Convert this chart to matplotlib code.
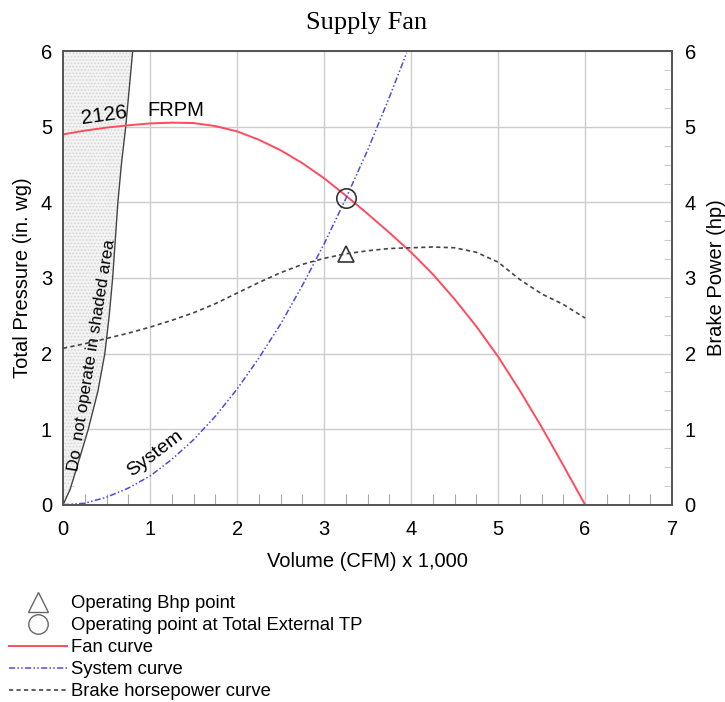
import matplotlib.pyplot as plt
from matplotlib.lines import Line2D
from matplotlib.ticker import MultipleLocator

# fan curve at 2126 RPM (total pressure, in. wg)
fan_cfm = [0, 0.25, 0.5, 0.75, 1.0, 1.25, 1.5, 1.75, 2.0, 2.25, 2.5, 2.75, 3.0,
           3.25, 3.5, 3.75, 4.0, 4.25, 4.5, 4.75, 5.0, 5.25, 5.5, 5.75, 6.0]
fan_tp = [4.90, 4.95, 4.99, 5.02, 5.045, 5.055, 5.05, 5.01, 4.94, 4.83, 4.69, 4.52, 4.32,
          4.09, 3.85, 3.60, 3.34, 3.05, 2.72, 2.36, 1.96, 1.51, 1.03, 0.52, 0.0]

# system curve
sys_cfm = [0, 0.25, 0.5, 0.75, 1.0, 1.25, 1.5, 1.75, 2.0, 2.25, 2.5, 2.75, 3.0,
           3.25, 3.5, 3.75, 3.95]
sys_tp = [0, 0.02, 0.10, 0.22, 0.38, 0.60, 0.86, 1.17, 1.53, 1.94, 2.39, 2.90, 3.45,
          4.05, 4.69, 5.39, 5.98]

# brake horsepower curve (hp)
bhp_cfm = [0, 0.25, 0.5, 0.75, 1.0, 1.25, 1.5, 1.75, 2.0, 2.25, 2.5, 2.75, 3.0,
           3.25, 3.5, 3.75, 4.0, 4.25, 4.5, 4.75, 5.0, 5.25, 5.5, 5.75, 6.0]
bhp_hp = [2.07, 2.13, 2.20, 2.27, 2.35, 2.44, 2.54, 2.66, 2.80, 2.94, 3.07, 3.18, 3.26,
          3.32, 3.36, 3.39, 3.40, 3.41, 3.40, 3.34, 3.21, 2.98, 2.79, 2.65, 2.47]

# stall boundary ("do not operate" region on the left)
stall_tp = [0, 0.2, 0.5, 1.0, 1.5, 2.0, 2.5, 3.0, 3.5, 4.0, 4.5, 5.0, 5.5, 6.0]
stall_cfm = [0, 0.08, 0.16, 0.29, 0.40, 0.48, 0.53, 0.57, 0.60, 0.63, 0.67, 0.72, 0.76, 0.80]

op_point = (3.25, 4.06)
bhp_point = (3.25, 3.32)

plt.rcParams['font.family'] = ['Liberation Sans', 'DejaVu Sans']
plt.rcParams['hatch.color'] = '#d4d4d4'
plt.rcParams['hatch.linewidth'] = 0.7

fig = plt.figure(figsize=(7.25, 7.02), dpi=100)
ax = fig.add_axes([0.087, 0.281, 0.840, 0.646])
ax2 = ax.twinx()

ax.fill_betweenx(stall_tp, 0, stall_cfm, facecolor='#f3f3f3', edgecolor='#d4d4d4',
                 hatch='.....', linewidth=0, zorder=1)
ax.plot(stall_cfm, stall_tp, color='#444444', lw=1.0, zorder=3)

ax.plot(fan_cfm, fan_tp, color='#ff4b5c', lw=1.4, zorder=4)
ax.plot(sys_cfm, sys_tp, color='#4b4bdc', lw=1.1,
        linestyle=(0, (4, 1.5, 1, 1.5, 1, 1.5)), zorder=4)
ax2.plot(bhp_cfm, bhp_hp, color='#444444', lw=1.2, linestyle=(0, (2.5, 2)), zorder=4)

ax.plot(*op_point, marker='o', ms=14, mfc='none', mec='#333333', mew=1.2, zorder=5)
ax.plot(*bhp_point, marker='^', ms=11, mfc='none', mec='#333333', mew=1.2, zorder=5)

ax.text(0.47, 5.15, '2126', fontsize=15, rotation=8, ha='center', va='center', zorder=6)
ax.text(1.30, 5.22, 'FRPM', fontsize=14.5, ha='center', va='center', zorder=6)
ax.text(0.33, 1.98, 'Do  not operate in shaded area', fontsize=12.2, rotation=81,
        ha='center', va='center', zorder=6)
ax.text(1.06, 0.68, 'System', fontsize=14, rotation=37, ha='center', va='center', zorder=6)

for a in (ax, ax2):
    a.set_xlim(0, 7)
    a.set_ylim(0, 6)
    a.yaxis.set_major_locator(MultipleLocator(1))
    a.yaxis.set_minor_locator(MultipleLocator(0.25))
    for s in a.spines.values():
        s.set_color('#555555')
        s.set_linewidth(1.3)

ax.xaxis.set_major_locator(MultipleLocator(1))
ax.xaxis.set_minor_locator(MultipleLocator(0.25))
ax.grid(True, which='major', color='#cccccc', lw=1.0, zorder=0)
ax.set_axisbelow(True)

ax.tick_params(which='major', length=0, labelsize=14.5, pad=8)
ax.tick_params(axis='x', which='major', pad=11)
ax.tick_params(which='minor', direction='in', length=8, color='#aaaaaa', width=0.8)
ax.tick_params(axis='y', which='minor', color='#d0d0d0')
ax2.tick_params(which='major', length=0, labelsize=14.5, pad=9)
ax2.tick_params(which='minor', direction='in', length=6, color='#cccccc', width=0.8)

ax.set_xlabel('Volume (CFM) x 1,000', fontsize=14.5, labelpad=9)
ax.set_ylabel('Total Pressure (in. wg)', fontsize=14.5, labelpad=6)
ax2.set_ylabel('Brake Power (hp)', fontsize=14.5, labelpad=8)

fig.text(0.506, 0.967, 'Supply Fan', fontsize=19, family='Liberation Serif',
         ha='center', va='center')

handles = [
    Line2D([], [], ls='none', marker='^', ms=14, mfc='none', mec='#666666', mew=1.0),
    Line2D([], [], ls='none', marker='o', ms=14, mfc='none', mec='#666666', mew=1.0),
    Line2D([], [], color='#ff4b5c', lw=1.4),
    Line2D([], [], color='#4b4bdc', lw=1.1, linestyle=(0, (4, 1.5, 1, 1.5, 1, 1.5))),
    Line2D([], [], color='#444444', lw=1.2, linestyle=(0, (2.5, 2))),
]
labels = ['Operating Bhp point', 'Operating point at Total External TP',
          'Fan curve', 'System curve', 'Brake horsepower curve']
fig.legend(handles, labels, loc='upper left', bbox_to_anchor=(0.013, 0.152),
           frameon=False, fontsize=13.3, handlelength=3.1, handletextpad=0.25,
           labelspacing=0.27, borderaxespad=0, borderpad=0)

fig.savefig('out.png', dpi=100)
